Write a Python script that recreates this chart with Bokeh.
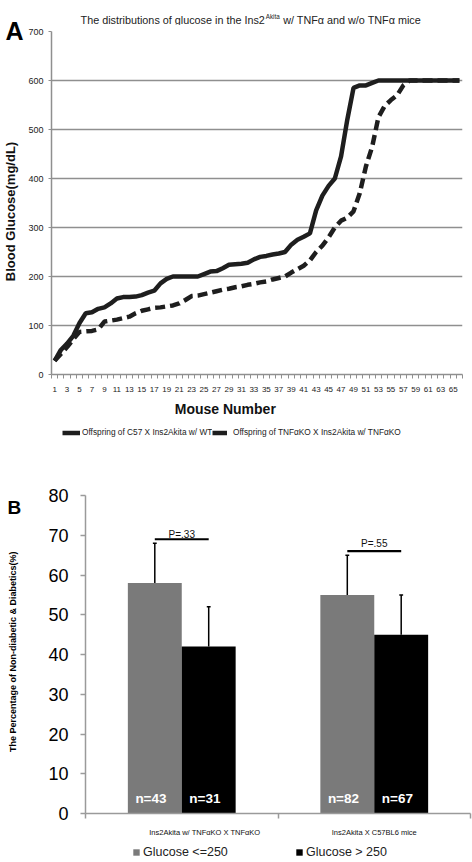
import math
from bokeh.plotting import figure
from bokeh.models import Range1d, FixedTicker, Legend, LegendItem, Spacer
from bokeh.layouts import column, row
from bokeh.embed import file_html
from bokeh.resources import INLINE
from bokeh.core.properties import value

# ---------------- data: panel A ----------------
mouse_number = list(range(1, 67))
glucose_wt = [28, 50, 63, 79, 105, 125, 127, 134, 137, 145, 155, 158, 158, 159, 162, 167, 171,
              186, 195, 200, 200, 200, 200, 200, 205, 210, 211, 217, 224, 225, 226, 228, 235,
              240, 242, 245, 247, 250, 265, 275, 281, 288, 335, 365, 385, 400, 445, 520, 585,
              590, 590, 595, 600, 600, 600, 600, 600, 600, 600, 600, 600, 600, 600, 600, 600, 600]
glucose_tnfko = [28, 42, 56, 72, 87, 88, 89, 92, 108, 110, 112, 115, 118, 125, 130, 133, 136,
                 137, 139, 141, 145, 152, 160, 161, 164, 167, 170, 173, 175, 178, 180, 183, 185,
                 188, 190, 194, 197, 200, 208, 215, 222, 233, 250, 263, 280, 300, 314, 320, 333,
                 370, 425, 465, 525, 548, 560, 570, 590, 600, 600, 600, 600, 600, 600, 600, 600, 600]
x_tick_labels_a = list(range(1, 66, 2))
y_ticks_a = [0, 100, 200, 300, 400, 500, 600, 700]
series_names_a = ["Offspring of C57 X Ins2Akita w/ WT",
                  "Offspring of TNF\u03b1KO X Ins2Akita w/ TNF\u03b1KO"]
title_a = ["The distributions of glucose in the Ins2", "Akita", "w/ TNF\u03b1 and w/o TNF\u03b1 mice"]
ylabel_a = "Blood Glucose(mg/dL)"
xlabel_a = "Mouse Number"

# ---------------- data: panel B ----------------
groups = ["Ins2Akita w/ TNF\u03b1KO X TNF\u03b1KO", "Ins2Akita X C57BL6 mice"]
pct_low = [58, 55]        # Glucose <=250
pct_high = [42, 45]       # Glucose > 250
err_low = [10, 10]
err_high = [10, 10]
n_low = ["n=43", "n=82"]
n_high = ["n=31", "n=67"]
p_values = ["P=.33", "P=.55"]
p_line_y = [69, 66]
y_ticks_b = [0, 10, 20, 30, 40, 50, 60, 70, 80]
legend_b = ["Glucose <=250", "Glucose > 250"]
ylabel_b = "The Percentage of  Non-diabetic & Diabetics(%)"

FONT = "Liberation Sans"
GRID = "#8f8f8f"
AXIS_B = "#9a9a9a"
LINE = "#1e1e1e"
GRAY_BAR = "#7a7a7a"
NAN = float("nan")


def strip(w, h):
    s = figure(width=w, height=h, output_backend="svg", toolbar_location=None,
               x_range=Range1d(0, w), y_range=Range1d(0, h),
               x_axis_type=None, y_axis_type=None, min_border=0)
    s.outline_line_color = None
    s.title.visible = False
    s.xgrid.visible = False
    s.ygrid.visible = False
    return s


def legend_strip(w, h, label, glyph_fn, font_size, glyph_w, glyph_h, standoff):
    s = strip(w, h)
    r = glyph_fn(s)
    leg = Legend(items=[LegendItem(label=label, renderers=[r])], location="left",
                 glyph_width=glyph_w, glyph_height=glyph_h, label_standoff=standoff,
                 padding=0, margin=0, spacing=0, border_line_color=None,
                 background_fill_alpha=0, label_text_font=FONT, label_text_font_size=font_size,
                 label_height=glyph_h, label_text_color="#222222")
    s.add_layout(leg, "center")
    return s


# ================= Panel A =================
LEFT_A = 25
TOP_A = 25
H_PA = 369          # plot: 25 .. 394
H_XL = 24           # x title strip: 394 .. 418
H_LA = 28           # legend strip: 418 .. 446
H_A = TOP_A + H_PA + H_XL + H_LA
W_A = 472 - LEFT_A

# left strip with the panel letter and the y axis title
sa = strip(LEFT_A, H_A)
sa.text(x=[5], y=[H_A - 30], text=["A"], text_font=value(FONT), text_font_style="bold",
        text_font_size="25px", text_align="left", text_baseline="alphabetic", text_color="#000000")
sa.text(x=[10], y=[H_A - 211], text=[ylabel_a], angle=math.pi / 2, text_font=value(FONT),
        text_font_style="bold", text_font_size="13px", text_align="center",
        text_baseline="middle", text_color="#111111")

# title strip (superscript "Akita")
ta = strip(W_A, TOP_A)
ta.text(x=[257 - LEFT_A], y=[TOP_A - 19.5], text=[title_a[0]], text_font=value(FONT),
        text_font_size="10.8px", text_align="right", text_baseline="alphabetic", text_color="#222222")
ta.text(x=[258 - LEFT_A], y=[TOP_A - 15.5], text=[title_a[1]], text_font=value(FONT),
        text_font_size="6.3px", text_align="left", text_baseline="alphabetic", text_color="#222222")
ta.text(x=[277 - LEFT_A], y=[TOP_A - 19.5], text=[title_a[2]], text_font=value(FONT),
        text_font_size="10.8px", text_align="left", text_baseline="alphabetic", text_color="#222222")

pa = figure(width=W_A, height=H_PA, output_backend="svg", toolbar_location=None,
            x_range=Range1d(0.5, 66.5), y_range=Range1d(0, 700),
            min_border_left=50 - LEFT_A, min_border_right=10,
            min_border_top=31 - TOP_A, min_border_bottom=TOP_A + H_PA - 374)
pa.title.visible = False
pa.outline_line_color = None

pa.line(mouse_number, glucose_wt, line_width=4.5, line_color=LINE)
pa.line(mouse_number, glucose_tnfko, line_width=4.5, line_color=LINE, line_dash="10 5")

pa.xgrid.visible = False
pa.ygrid.ticker = FixedTicker(ticks=y_ticks_a)
pa.ygrid.grid_line_color = GRID
pa.ygrid.grid_line_width = 1.5

xa = pa.xaxis[0]
xa.ticker = FixedTicker(ticks=x_tick_labels_a, minor_ticks=[m - 0.5 for m in mouse_number] + [66.5])
xa.axis_line_color = GRID
xa.axis_line_width = 1.5
xa.major_tick_out = 0
xa.major_tick_in = 0
xa.minor_tick_out = 4
xa.minor_tick_in = 0
xa.minor_tick_line_color = GRID
xa.major_label_text_font = FONT
xa.major_label_text_font_size = "8px"
xa.major_label_text_color = "#222222"
xa.major_label_standoff = 8

ya = pa.yaxis[0]
ya.ticker = FixedTicker(ticks=y_ticks_a)
ya.axis_line_color = GRID
ya.axis_line_width = 1.5
ya.major_tick_out = 3
ya.major_tick_in = 0
ya.minor_tick_out = 0
ya.major_tick_line_color = GRID
ya.major_label_text_font = FONT
ya.major_label_text_font_size = "9px"
ya.major_label_text_color = "#222222"
ya.major_label_standoff = 5

# x axis title strip
xl = strip(W_A, H_XL)
xl.text(x=[214 - LEFT_A], y=[H_XL - (408 - 394)], text=[xlabel_a], text_font=value(FONT),
        text_font_style="bold", text_font_size="14px", text_align="center",
        text_baseline="middle", text_color="#111111")

# legend strip for panel A: spacer | item 1 | item 2
LA1_X, LA2_X = 62, 212
la1 = legend_strip(LA2_X - LA1_X, H_LA, series_names_a[0],
                   lambda s: s.line(x=[NAN], y=[NAN], line_width=4.5, line_color=LINE),
                   "8.3px", 18, 9, 2)
la2 = legend_strip(472 - LA2_X, H_LA, series_names_a[1],
                   lambda s: s.line(x=[NAN], y=[NAN], line_width=4.5, line_color=LINE,
                                    line_dash="15 5"),
                   "8.3px", 15, 9, 6)
la = row(Spacer(width=LA1_X - LEFT_A, height=H_LA), la1, la2)

# ================= Panel B =================
LEFT_B = 30
Y0_B = H_A                          # 446
H_PB = 396
H_LB = 862 - Y0_B - H_PB            # 20
H_B = H_PB + H_LB
W_B = 472 - LEFT_B

sb = strip(LEFT_B, H_B)
sb.text(x=[7], y=[H_B - (507 - Y0_B)], text=["B"], text_font=value(FONT), text_font_style="bold",
        text_font_size="19px", text_align="left", text_baseline="alphabetic", text_color="#000000")
sb.text(x=[12], y=[H_B - (650 - Y0_B)], text=[ylabel_b], angle=math.pi / 2, text_font=value(FONT),
        text_font_style="bold", text_font_size="9px", text_align="center",
        text_baseline="middle", text_color="#000000")

pb = figure(width=W_B, height=H_PB, output_backend="svg", toolbar_location=None,
            x_range=Range1d(0, 2), y_range=Range1d(0, 80),
            min_border_left=85 - LEFT_B, min_border_right=2,
            min_border_top=495 - Y0_B, min_border_bottom=Y0_B + H_PB - 813)
pb.title.visible = False
pb.outline_line_color = None
pb.xgrid.visible = False
pb.ygrid.visible = False

centers = [i + 0.5 for i in range(len(groups))]
bw = 0.28
x_low = [c - bw / 2 for c in centers]
x_high = [c + bw / 2 for c in centers]

pb.vbar(x=x_low, top=pct_low, width=bw, fill_color=GRAY_BAR, line_color=None)
pb.vbar(x=x_high, top=pct_high, width=bw, fill_color="#000000", line_color=None)

for xs, tops, errs in ((x_low, pct_low, err_low), (x_high, pct_high, err_high)):
    ends = [t + e for t, e in zip(tops, errs)]
    pb.segment(x0=xs, y0=tops, x1=xs, y1=ends, line_color="#000000", line_width=1.5)
    pb.segment(x0=[x - 0.01 for x in xs], y0=ends, x1=[x + 0.01 for x in xs], y1=ends,
               line_color="#000000", line_width=1.5)

pb.segment(x0=x_low, y0=p_line_y, x1=x_high, y1=p_line_y, line_color="#000000", line_width=2.2)
pb.text(x=centers, y=[v + g for v, g in zip(p_line_y, [1.3, 2.0])], text=p_values,
        text_align="center", text_baseline="alphabetic", text_font=value(FONT),
        text_font_size="10px", text_color="#111111")

pb.text(x=[x - 0.02 for x in x_low], y=[3.7] * 2, text=n_low, text_align="center",
        text_baseline="middle", text_font=value(FONT), text_font_style="bold",
        text_font_size="13.5px", text_color="#ffffff")
pb.text(x=[x - 0.02 for x in x_high], y=[3.7] * 2, text=n_high, text_align="center",
        text_baseline="middle", text_font=value(FONT), text_font_style="bold",
        text_font_size="13.5px", text_color="#ffffff")

xb = pb.xaxis[0]
label_pos = [centers[0] + 0.12, centers[1]]
xb.ticker = FixedTicker(ticks=label_pos, minor_ticks=[0, 1, 2])
xb.major_label_overrides = {label_pos[0]: groups[0], label_pos[1]: groups[1]}
xb.axis_line_color = AXIS_B
xb.axis_line_width = 1.5
xb.major_tick_out = 0
xb.major_tick_in = 0
xb.minor_tick_out = 5
xb.minor_tick_in = 0
xb.minor_tick_line_color = AXIS_B
xb.minor_tick_line_width = 1.5
xb.major_label_text_font = FONT
xb.major_label_text_font_size = "7.5px"
xb.major_label_text_color = "#111111"
xb.major_label_standoff = 9

yb = pb.yaxis[0]
yb.ticker = FixedTicker(ticks=y_ticks_b)
yb.axis_line_color = AXIS_B
yb.axis_line_width = 1.5
yb.major_tick_out = 5
yb.major_tick_in = 0
yb.minor_tick_out = 0
yb.major_tick_line_color = AXIS_B
yb.major_tick_line_width = 1.5
yb.major_label_text_font = FONT
yb.major_label_text_font_size = "18px"
yb.major_label_text_color = "#000000"
yb.major_label_standoff = 12

# legend strip for panel B: spacer | item 1 | item 2
LB1_X, LB2_X = 132, 295
lb1 = legend_strip(LB2_X - LB1_X, H_LB, legend_b[0],
                   lambda s: s.vbar(x=[NAN], top=[NAN], width=1, fill_color=GRAY_BAR, line_color=None),
                   "12.5px", 8, 8, 3)
lb2 = legend_strip(472 - LB2_X, H_LB, legend_b[1],
                   lambda s: s.vbar(x=[NAN], top=[NAN], width=1, fill_color="#000000", line_color=None),
                   "12.5px", 8, 8, 3)
lb = row(Spacer(width=LB1_X - LEFT_B, height=H_LB), lb1, lb2)

layout = column(row(sa, column(ta, pa, xl, la)), row(sb, column(pb, lb)))
open("out.html", "w").write(file_html(layout, INLINE))
